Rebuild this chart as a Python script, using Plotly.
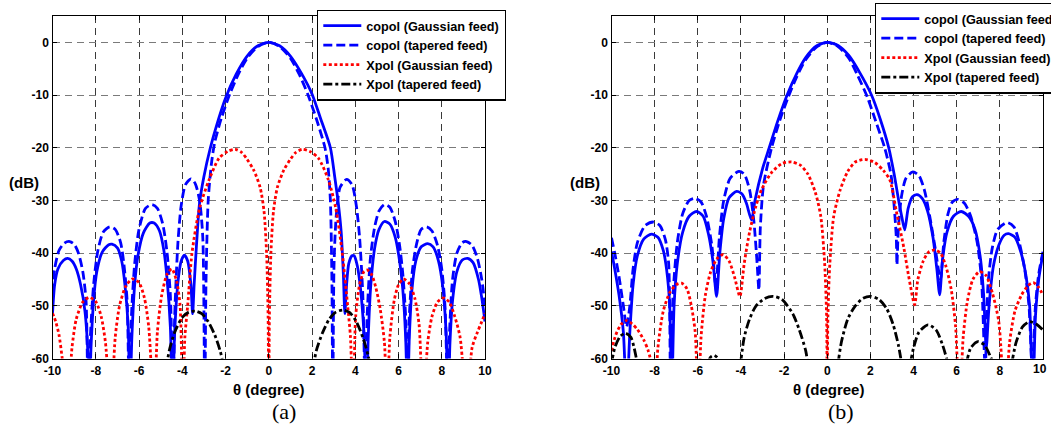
import plotly.graph_objects as go

FONT = "Liberation Sans, Arial, Helvetica, sans-serif"
SERIF = "Liberation Serif, Times New Roman, serif"

theta_ticks = [-10, -8, -6, -4, -2, 0, 2, 4, 6, 8, 10]
db_ticks = [-60, -50, -40, -30, -20, -10, 0]
legend_names = ["copol (Gaussian feed)", "copol (tapered feed)",
                "Xpol (Gaussian feed)", "Xpol (tapered feed)"]
captions = ["(a)", "(b)"]

# ---------------- panel (a) ----------------
a_cg_x = [-10, -9.9, -9.75, -9.5, -9.3, -9.1, -8.9, -8.7, -8.5, -8.35, -8.3,
          -8.22, -8.1, -7.95, -7.7, -7.4, -7.25, -7.0, -6.8, -6.65, -6.5, -6.42,
          -6.33, -6.2, -6.05, -5.8, -5.5, -5.3, -5.05, -4.85, -4.7, -4.55, -4.45,
          -4.35, -4.2, -4.05, -3.9, -3.75, -3.6, -3.52,
          -3.45, -3.35, -3.2, -3.0, -2.7, -2.4, -2.0, -1.5, -1.0, -0.5, 0,
          0.5, 1.0, 1.5, 2.0, 2.4, 2.85, 3.05, 3.2, 3.35, 3.45, 3.52,
          3.6, 3.7, 3.85, 3.95, 4.1, 4.25, 4.4, 4.52,
          4.6, 4.72, 4.9, 5.1, 5.35, 5.6, 5.85, 6.05, 6.2, 6.33, 6.42,
          6.5, 6.62, 6.8, 7.05, 7.35, 7.6, 7.85, 8.05, 8.2, 8.3,
          8.38, 8.5, 8.7, 8.95, 9.2, 9.45, 9.7, 9.85, 10]
a_cg_y = [-51.5, -46, -43, -41.4, -41, -41.5, -43, -46, -51, -60, -68,
          -58, -49, -43.5, -39.8, -38.4, -38.3, -39, -41.5, -46, -54, -68,
          -56, -46, -40.5, -36.2, -34.3, -34.3, -35.8, -39.5, -45, -54, -68,
          -55, -45.5, -41.5, -40.4, -41.5, -46, -51.5,
          -46, -39, -30.5, -25.5, -20, -15.6, -10.6, -6.0, -2.6, -0.65, 0,
          -0.65, -2.6, -5.8, -9.8, -14.5, -20, -25.5, -30, -36, -44, -51.5,
          -46, -42, -40.5, -40.5, -42.5, -47, -55, -68,
          -56, -46, -39, -35.5, -34, -34.5, -37, -41.5, -47, -56, -68,
          -56, -47, -41.5, -38.8, -38.2, -38.8, -41.5, -46.5, -55, -68,
          -57, -49, -43.5, -41.3, -41, -41.8, -45, -48.5, -53]

a_ct_x = [-10, -9.9, -9.7, -9.45, -9.2, -9.0, -8.8, -8.6, -8.45, -8.35,
          -8.25, -8.1, -7.9, -7.65, -7.35, -7.1, -6.85, -6.7, -6.55, -6.45,
          -6.35, -6.2, -6.0, -5.7, -5.4, -5.15, -4.9, -4.7, -4.55, -4.42,
          -4.35, -4.2, -4.05, -3.85, -3.6, -3.4, -3.2, -3.05, -2.96,
          -2.9, -2.8, -2.65, -2.5, -2.2, -1.8, -1.4, -1.0, -0.5, 0,
          0.5, 1.0, 1.4, 1.8, 2.2, 2.6, 2.75, 2.85, 2.92, 2.96,
          3.02, 3.12, 3.3, 3.6, 3.85, 4.05, 4.2, 4.35, 4.47,
          4.55, 4.7, 4.9, 5.1, 5.35, 5.6, 5.85, 6.05, 6.2, 6.33, 6.42,
          6.5, 6.65, 6.85, 7.05, 7.3, 7.55, 7.8, 8.0, 8.15, 8.28,
          8.36, 8.5, 8.7, 8.95, 9.15, 9.4, 9.65, 9.85, 10]
a_ct_y = [-47.5, -43, -39.5, -38.1, -37.8, -38.3, -40, -43.5, -49, -68,
          -56, -46, -39.5, -36, -35, -35.5, -38, -42, -49, -68,
          -52, -42, -35.5, -31.5, -30.8, -31.5, -34.5, -40, -48, -68,
          -52, -38, -31, -27, -25.9, -26.8, -30, -37, -68,
          -45, -30, -23, -19, -14.5, -9.8, -6, -3, -0.8, 0,
          -0.8, -3, -6, -9.8, -14.5, -20, -24, -30, -45, -68,
          -42, -33, -27.5, -26, -27, -31, -37, -48, -68,
          -52, -41, -35, -32, -30.8, -31.3, -34, -38.5, -44, -52, -68,
          -52, -43, -38, -35.5, -35, -35.8, -38.5, -43, -50, -68,
          -55, -45, -40, -38, -37.8, -38.5, -41, -45, -50]

a_xg_x = [-10, -9.85, -9.7, -9.55, -9.3,
          -9.1, -8.9, -8.6, -8.3, -8.0, -7.75, -7.55, -7.3,
          -7.1, -6.9, -6.6, -6.3, -6.0, -5.75, -5.55, -5.3,
          -5.15, -4.95, -4.7, -4.48, -4.25, -4.1, -3.97,
          -3.88, -3.75, -3.55, -3.2, -2.75, -2.3, -1.9, -1.55, -1.25, -1.0, -0.7,
          -0.4, -0.22, -0.1, -0.03, 0,
          0.03, 0.1, 0.22, 0.4, 0.7, 1.0, 1.25, 1.55, 1.9, 2.3, 2.75, 3.1, 3.4,
          3.65, 3.78, 3.9,
          4.02, 4.2, 4.4, 4.55, 4.75, 4.95, 5.15, 5.35, 5.47,
          5.6, 5.8, 6.0, 6.23, 6.5, 6.75, 6.95, 7.15,
          7.35, 7.55, 7.8, 8.08, 8.35, 8.6, 8.85, 9.17,
          9.4, 9.65, 9.85, 10]
a_xg_y = [-51.4, -53, -55.5, -60, -70,
          -58, -52.5, -49.3, -48.4, -49.2, -52, -57, -70,
          -56, -50, -46.2, -44.9, -45.6, -48.5, -54, -70,
          -55, -48, -44, -43, -45.5, -50, -70,
          -56, -50, -40, -31.5, -26, -22, -20.7, -20.3, -20.9, -22.2, -24.2,
          -27.5, -32, -40, -52, -70,
          -52, -40, -32, -27.5, -24.2, -22.2, -20.9, -20.3, -20.7, -22, -26, -31.5, -40,
          -50, -56, -70,
          -52, -46, -43.5, -43.2, -44, -46.5, -50.5, -57, -70,
          -56, -49, -46, -44.9, -45.8, -48.5, -53.5, -70,
          -57, -52, -49.3, -48.5, -49.3, -52, -56, -70,
          -58, -55, -53, -51.4]

a_xt_x = [-4.75, -4.6, -4.35, -4.0, -3.7, -3.4, -3.1, -2.8, -2.5, -2.25, -2.05,
          None,
          2.05, 2.2, 2.5, 2.8, 3.1, 3.43, 3.75, 4.05, 4.35, 4.6, 4.7]
a_xt_y = [-62, -58.5, -55, -52.2, -51.2, -51, -51.5, -53, -55.5, -58.5, -62,
          None,
          -62, -58.5, -55, -52.5, -51.2, -50.8, -51.3, -53, -56, -59.5, -62]

# ---------------- panel (b) ----------------
b_cg_x = [-10, -9.85, -9.65, -9.45, -9.3,
          -9.15, -9.0, -8.8, -8.5, -8.15, -7.85, -7.6, -7.45, -7.3, -7.21,
          -7.1, -6.95, -6.7, -6.4, -6.06, -5.75, -5.5, -5.3, -5.13,
          -4.98, -4.8, -4.55, -4.2, -3.95, -3.75, -3.51,
          -3.35, -3.0, -2.69, -2.3, -1.86, -1.4, -1.0, -0.5, 0,
          0.5, 1.0, 1.5, 2.05, 2.45, 2.85, 3.1, 3.31, 3.45, 3.59,
          3.75, 3.95, 4.16, 4.4, 4.65, 4.9, 5.08, 5.21,
          5.35, 5.55, 5.85, 6.21, 6.55, 6.85, 7.1, 7.25, 7.37,
          7.5, 7.7, 7.95, 8.2, 8.4, 8.7, 8.95, 9.2, 9.38, 9.53,
          9.65, 9.8, 10]
b_cg_y = [-39.7, -43, -48, -55, -68,
          -55, -46, -40.5, -37.3, -36.4, -37, -39.5, -43, -50, -68,
          -50, -42, -36, -33, -32.1, -33, -36.5, -41.5, -48.2,
          -40, -33.5, -29.5, -28.3, -28.8, -30.5, -33.7,
          -30, -24, -20, -15, -10, -5.8, -2.9, -0.7, 0,
          -0.6, -2.5, -5.7, -10, -14.5, -20, -25, -30, -33, -35.6,
          -31.5, -29.3, -28.9, -29.6, -32, -37, -43, -47.9,
          -41, -36, -33, -32.1, -33, -35.5, -41, -48, -58,
          -50, -42.5, -38.5, -36.6, -36.3, -37, -39.5, -44, -50, -68,
          -52, -45, -40]

b_ct_x = [-10, -9.85, -9.65, -9.45, -9.3,
          -9.15, -9.0, -8.8, -8.45, -8.06, -7.75, -7.5, -7.35, -7.26,
          -7.15, -6.95, -6.7, -6.4, -6.13, -5.85, -5.6, -5.35, -5.16,
          -5.0, -4.8, -4.5, -4.1, -3.85, -3.6, -3.4, -3.25, -3.17,
          -3.1, -2.95, -2.58, -2.2, -1.8, -1.4, -1.0, -0.5, 0,
          0.5, 1.0, 1.4, 1.85, 2.25, 2.66, 2.95, 3.1, 3.2, 3.23,
          3.3, 3.45, 3.65, 3.97, 4.25, 4.5, 4.75, 5.0, 5.25,
          5.4, 5.6, 5.8, 6.05, 6.35, 6.65, 6.95, 7.15, 7.32,
          7.45, 7.65, 7.9, 8.34, 8.65, 8.9, 9.15, 9.35, 9.5,
          9.65, 9.8, 10]
b_ct_y = [-37.1, -40, -44.5, -50, -54,
          -50, -43, -38, -34.8, -34.1, -34.8, -37.5, -42, -68,
          -48, -38, -32.5, -30, -29.6, -30.3, -33, -38.5, -46.3,
          -37, -30, -25.8, -24.5, -25, -28, -34, -42, -47,
          -35, -27, -20, -14.8, -10.3, -6.4, -3.3, -0.9, 0,
          -0.8, -3.0, -6.2, -10.3, -15, -20, -25, -31, -37, -42.2,
          -35, -29, -25.8, -24.6, -25.3, -28, -33, -39, -45,
          -38, -32.5, -30.3, -29.8, -30.5, -33, -38, -45, -62,
          -46, -39, -35.5, -34.2, -35, -38, -43, -50, -62,
          -50, -44, -39.7]

b_xg_x = [-10, -9.8, -9.55, -9.3, -9.05, -8.8, -8.5, -8.3, -8.1, -7.99,
          -7.85, -7.6, -7.3, -7.0, -6.75, -6.5, -6.3, -6.12, -5.98,
          -5.85, -5.65, -5.4, -5.1, -4.82, -4.55, -4.3, -4.05,
          -3.85, -3.6, -3.3, -3.05, -2.6, -2.1, -1.66, -1.25, -0.9, -0.55, -0.3,
          -0.12, -0.03, 0,
          0.03, 0.12, 0.3, 0.6, 0.95, 1.3, 1.74, 2.2, 2.6, 2.9, 3.2, 3.55, 3.8, 4.05,
          4.2, 4.45, 4.7, 4.98, 5.25, 5.5, 5.75, 5.95, 6.13,
          6.3, 6.5, 6.75, 7.06, 7.35, 7.65, 7.95, 8.25,
          8.45, 8.7, 9.0, 9.3, 9.55, 9.8, 10]
b_xg_y = [-58.5, -55.5, -53.5, -52.8, -53.4, -54.5, -56.5, -58.5, -62, -70,
          -58, -51, -47.5, -46, -45.7, -46.8, -50, -55, -70,
          -56, -48, -43.5, -41, -40.3, -41.5, -44.5, -48.2,
          -42, -36, -31, -28, -24.8, -23, -22.7, -23.3, -25, -28.5, -33,
          -42, -52, -70,
          -52, -42, -33, -28, -24.5, -22.7, -22.2, -22.8, -24.3, -26.1, -32, -39, -45, -49.8,
          -45, -41.5, -39.8, -39.4, -40, -42.5, -47, -54, -70,
          -56, -49, -45, -43.5, -44.2, -47.5, -53, -70,
          -57, -51, -48, -46.2, -45.6, -46.5, -48]

b_xt_x = [-10, -9.85, -9.6, -9.35, -9.1, -8.95, -8.8, None,
          -5.55, -5.4, -5.25, -5.1, -4.95, None,
          -4.02, -3.85, -3.6, -3.3, -2.9, -2.51, -2.1, -1.6, -1.3, -1.0, -0.9, None,
          0.5, 0.65, 0.95, 1.3, 1.65, 2.01, 2.4, 2.75, 3.05, 3.3, 3.45, None,
          3.85, 4.0, 4.25, 4.67, 5.05, 5.35, 5.6, None,
          6.45, 6.65, 6.98, 7.3, 7.55, 7.7, None,
          8.55, 8.75, 9.05, 9.38, 9.7, 10]
b_xt_y = [-61, -58, -55.8, -55.2, -56, -58, -61, None,
          -61, -59.7, -59.4, -59.8, -61, None,
          -61, -56, -52.5, -50, -48.6, -48.2, -48.8, -51.5, -54.5, -58.5, -61, None,
          -61, -57, -52.5, -50, -48.6, -48.2, -48.8, -50.5, -53.5, -57.5, -61, None,
          -61, -58, -55, -53.6, -54.6, -57.5, -61, None,
          -61, -58, -56.8, -57.5, -59.5, -61, None,
          -61, -57, -54, -53, -53.5, -54.6]

panels = [
    [(a_cg_x, a_cg_y), (a_ct_x, a_ct_y), (a_xg_x, a_xg_y), (a_xt_x, a_xt_y)],
    [(b_cg_x, b_cg_y), (b_ct_x, b_ct_y), (b_xg_x, b_xg_y), (b_xt_x, b_xt_y)],
]

styles = [
    dict(color="#0000FF", dash="solid"),
    dict(color="#0000FF", dash="9px,4px"),
    dict(color="#FF0000", dash="3px,2.5px"),
    dict(color="#000000", dash="9px,3px,3px,3px"),
]

W, H = 1051, 437
fig = go.Figure()
for p, series in enumerate(panels):
    sfx = "" if p == 0 else "2"
    for k, (xs, ys) in enumerate(series):
        fig.add_trace(go.Scatter(
            x=xs, y=ys, mode="lines", name=legend_names[k],
            xaxis="x" + sfx, yaxis="y" + sfx,
            legend="legend" + sfx,
            line=dict(color=styles[k]["color"], dash=styles[k]["dash"],
                      width=2.8, shape="spline", smoothing=0.7),
            connectgaps=False, hoverinfo="skip",
        ))

tickfont = dict(family=FONT, size=12, color="black", weight="bold")

def xaxis(dom, texts):
    return dict(domain=dom, range=[-10, 10], tickvals=theta_ticks,
                ticktext=texts,
                showline=True, linecolor="black", linewidth=1.3,
                mirror="allticks", ticks="inside", ticklen=4,
                tickcolor="black", showgrid=True, gridcolor="#3a3a3a",
                griddash="7px,5px", gridwidth=1, zeroline=False,
                tickfont=tickfont, fixedrange=True, automargin=False,
                ticklabelstandoff=1, ticklabeloverflow="allow")

def yaxis(dom, anchor):
    return dict(domain=dom, range=[-60, 5], tickvals=db_ticks,
                ticktext=[str(v) for v in db_ticks], anchor=anchor,
                showline=True, linecolor="black", linewidth=1.3,
                mirror="allticks", ticks="inside", ticklen=4,
                tickcolor="black", showgrid=True, gridcolor="#7a7a7a",
                griddash="7px,5px", gridwidth=1, zeroline=False,
                tickfont=tickfont, fixedrange=True, automargin=False,
                ticklabeloverflow="allow")

ydom = [(437 - 358.5) / H, (437 - 16) / H]
xdomA = [52.5 / W, 485 / W]
xdomB = [611.5 / W, 1043 / W]

textsA = [str(v) for v in theta_ticks]
# last label of panel (b) sits at the page edge; drawn as an annotation below
textsB = [str(v) for v in theta_ticks[:-1]] + [""]

legfont = dict(family=FONT, size=12.7, color="black", weight="bold")
fig.update_layout(
    width=W, height=H,
    margin=dict(l=0, r=0, t=0, b=0, autoexpand=False),
    paper_bgcolor="white", plot_bgcolor="white",
    xaxis=dict(xaxis(xdomA, textsA), anchor="y"),
    yaxis=yaxis(ydom, "x"),
    xaxis2=dict(xaxis(xdomB, textsB), anchor="y2"),
    yaxis2=yaxis(ydom, "x2"),
    legend=dict(x=317 / W, y=(H - 9.5) / H, xanchor="left", yanchor="top",
                bgcolor="white", bordercolor="black", borderwidth=1.3,
                font=legfont, itemwidth=38, tracegroupgap=0),
    legend2=dict(x=875 / W, y=(H - 2.5) / H, xanchor="left", yanchor="top",
                 bgcolor="white", bordercolor="black", borderwidth=1.3,
                 font=legfont, itemwidth=38, tracegroupgap=0),
    showlegend=True,
)

ann = []
for cx_title, cx_cap, cx_db, cap in [(268.5, 284, 23.5, captions[0]),
                                     (828, 841, 585, captions[1])]:
    ann.append(dict(text="θ (degree)", x=cx_title / W, y=(H - 389) / H,
                    xref="paper", yref="paper", showarrow=False,
                    xanchor="center", yanchor="middle",
                    font=dict(family=FONT, size=15, color="black", weight="bold")))
    ann.append(dict(text="(dB)", x=cx_db / W, y=(H - 182) / H,
                    xref="paper", yref="paper", showarrow=False,
                    xanchor="center", yanchor="middle",
                    font=dict(family=FONT, size=15, color="black", weight="bold")))
    ann.append(dict(text=cap, x=cx_cap / W, y=(H - 411) / H,
                    xref="paper", yref="paper", showarrow=False,
                    xanchor="center", yanchor="middle",
                    font=dict(family=SERIF, size=22, color="black")))
ann.append(dict(text=str(theta_ticks[-1]), x=1049 / W, xref="paper",
                y=(H - 369) / H, yref="paper", showarrow=False,
                xanchor="right", yanchor="middle",
                font=tickfont))
fig.update_layout(annotations=ann)

fig.write_html("out.html", config={"displayModeBar": False})
